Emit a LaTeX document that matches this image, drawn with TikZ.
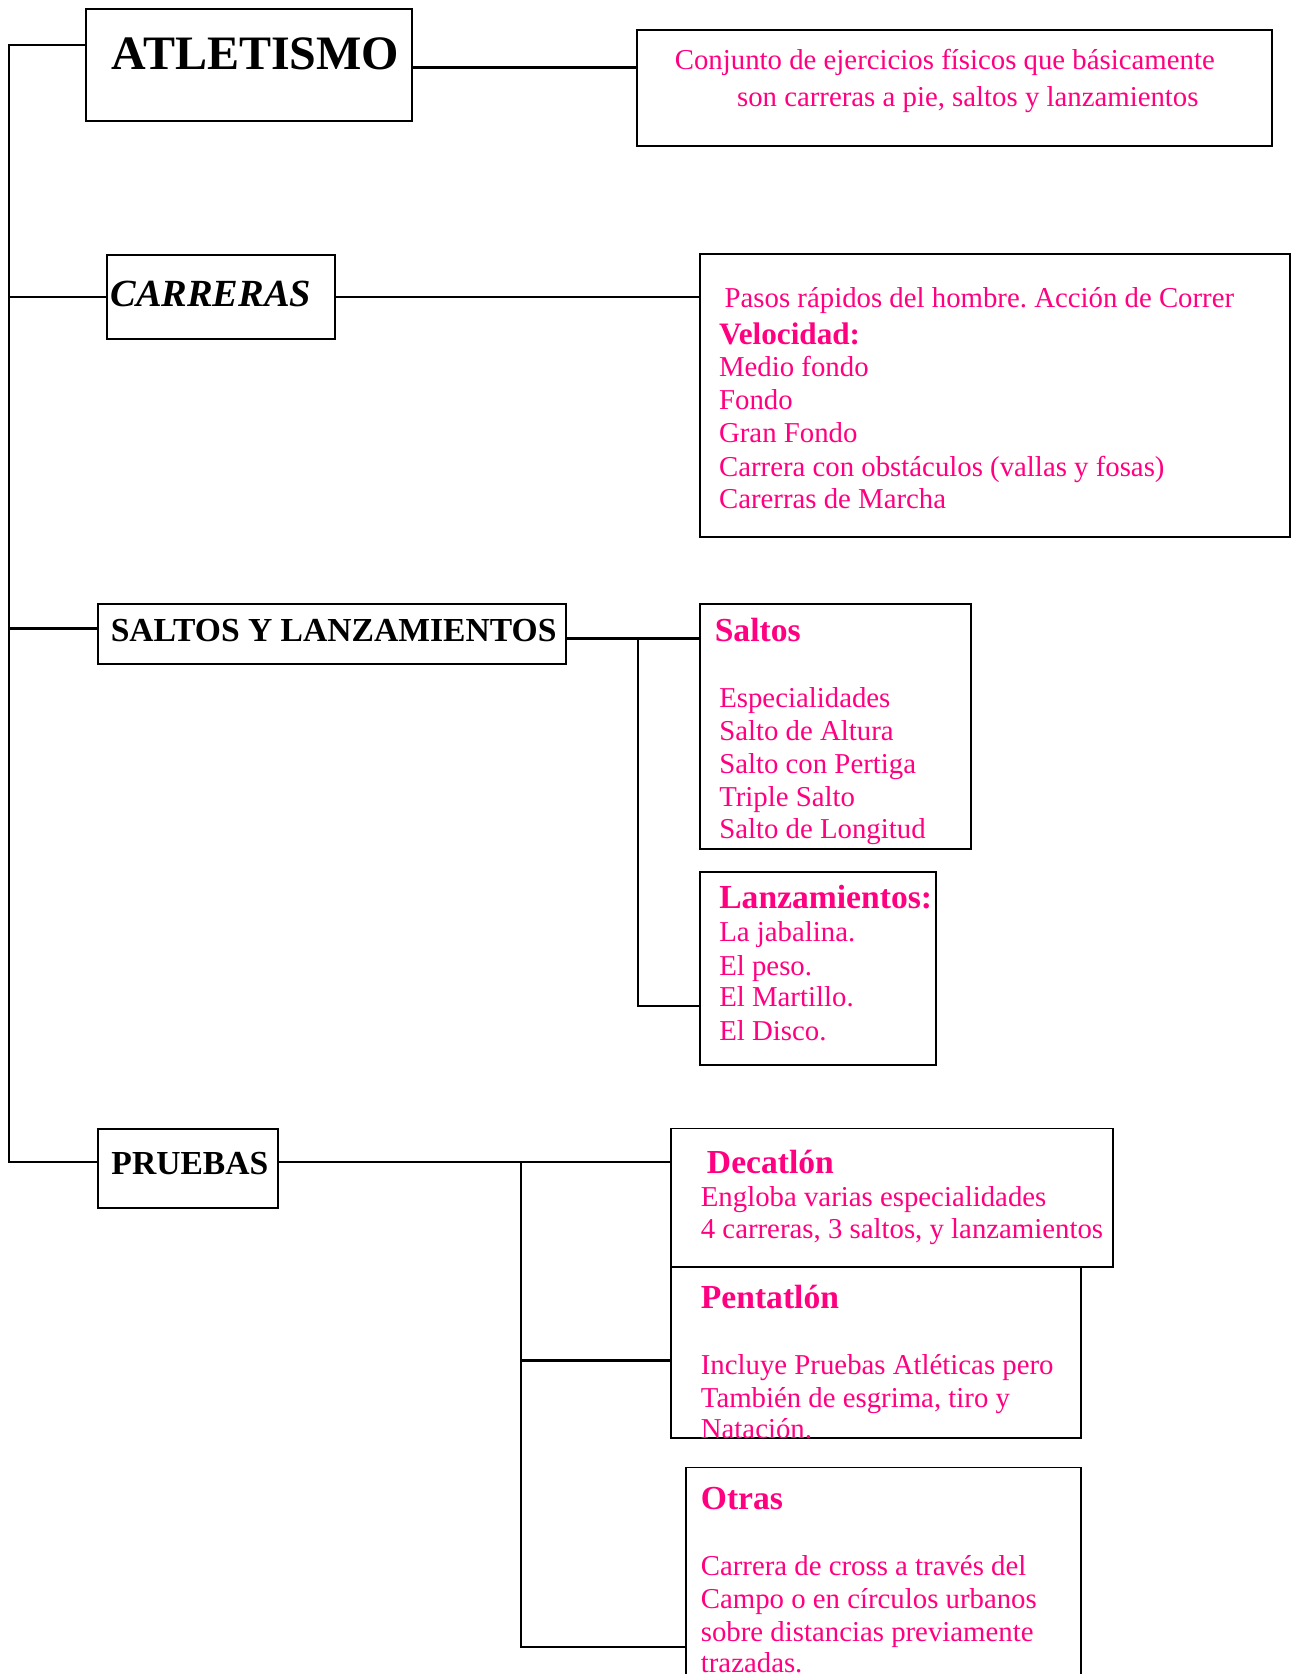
\documentclass[tikz,border=0pt]{standalone}
\usepackage{fontspec}
\setmainfont{Liberation Serif}
\usetikzlibrary{fit}
\definecolor{pinkc}{RGB}{255,0,128}
\frenchspacing
\tikzset{
  box/.style={draw=black, line width=0.8pt, inner sep=0pt, rectangle},
  conn/.style={draw=black, line width=1pt},
  txt/.style={anchor=base west, inner sep=0pt, text=pinkc, font=\fontsize{12}{13.8}\selectfont},
  hdr/.style={anchor=base west, inner sep=0pt, text=pinkc, font=\fontsize{14}{16}\selectfont\bfseries},
  ttl/.style={anchor=base west, inner sep=0pt, text=black, font=\fontsize{14}{16}\selectfont\bfseries}
}
\begin{document}
\begin{tikzpicture}[x=0.41667pt, y=-0.41667pt]
\useasboundingbox (0,0) rectangle (1292,1674);
\clip (0,0) rectangle (1292,1674);

% boxes
\node[box, fit={(86,9)(412,121)}] (atl) {};
\node[box, fit={(637,30)(1272,146)}] (def) {};
\node[box, fit={(107,255)(335,339)}] (car) {};
\node[box, fit={(700,254)(1290,537)}] (card) {};
\node[box, fit={(98,604)(566,664)}] (sal) {};
\node[box, fit={(700,604)(971,849)}] (salt) {};
\node[box, fit={(700,872)(936,1065)}] (lanz) {};
\node[box, fit={(98,1129)(278,1208)}] (pru) {};
\node[box, fit={(671,1128.5)(1113,1267)}] (dec) {};
\node[box, fit={(671,1267)(1081,1438)}] (pen) {};
\node[box, fit={(686,1467.5)(1081,1720)}] (ot) {};

% junction coordinates
\coordinate (b1) at (9,45);
\coordinate (b4) at (9,1162);
\coordinate (a1) at (500,67.5);
\coordinate (j1) at (638,638.3);
\coordinate (j2) at (638,1006);
\coordinate (k1) at (521,1162);
\coordinate (k2) at (521,1360.6);
\coordinate (k3) at (521,1647);

% connectors
\draw[conn] (atl.west|-b1) -| (b4) -- (pru.west|-b4);
\draw[conn] (b1|-car.west) -- (car.west);
\draw[conn] (b1|-0,628.3) -- (sal.west|-0,628.3);
\draw[conn] (atl.east|-a1) -- (def.west|-a1);
\draw[conn] (car.east) -- (card.west|-car.east);
\draw[conn] (sal.east|-j1) -- (j1) -- (salt.west|-j1);
\draw[conn] (j1) |- (lanz.west|-j2);
\draw[conn] (pru.east|-b4) -- (dec.west|-b4);
\draw[conn] (k1) -- (k3) -- (ot.west|-k3);
\draw[conn] (k2) -- (pen.west|-k2);

% titles
\node[ttl, font=\fontsize{20}{24}\selectfont\bfseries] (tatl) at (111.5,70) {ATLETISMO};
\node[ttl, font=\fontsize{16}{19}\selectfont\bfseries\itshape] (tcar) at (110,306.7) {CARRERAS};
\node[ttl] (tsal) at (110.3,641.7) {SALTOS Y LANZAMIENTOS};
\node[ttl] (tpru) at (111,1174.3) {PRUEBAS};

% definition
\node[txt] (d1) at (674.4,69.6) {Conjunto de ejercicios físicos que básicamente};
\node[txt] (d2) at (736.6,106.4) {son carreras a pie, saltos y lanzamientos};

% carreras
\node[txt] (c1) at (724.2,307.1) {Pasos rápidos del hombre. Acción de Correr};
\node[hdr, font=\fontsize{13}{15}\selectfont\bfseries] (c2) at (718.6,344.6) {Velocidad:};
\node[txt] (c3) at (718.6,376.8) {Medio fondo};
\node[txt] (c4) at (718.6,409.6) {Fondo};
\node[txt] (c5) at (718.6,442.9) {Gran Fondo};
\node[txt] (c6) at (718.6,476.1) {Carrera con obstáculos (vallas y fosas)};
\node[txt] (c7) at (718.6,508.9) {Carerras de Marcha};

% saltos
\node[hdr] (s1) at (714.3,641.7) {Saltos};
\node[txt] (s2) at (718.8,707.3) {Especialidades};
\node[txt] (s3) at (718.8,740.7) {Salto de Altura};
\node[txt] (s4) at (718.8,773.3) {Salto con Pertiga};
\node[txt] (s5) at (718.8,806.7) {Triple Salto};
\node[txt] (s6) at (718.8,838.3) {Salto de Longitud};

% lanzamientos
\node[hdr] (l1) at (718.8,908.3) {Lanzamientos:};
\node[txt] (l2) at (718.8,941.7) {La jabalina.};
\node[txt] (l3) at (718.8,975) {El peso.};
\node[txt] (l4) at (718.8,1006.7) {El Martillo.};
\node[txt] (l5) at (718.8,1040) {El Disco.};

% decatlon
\node[hdr] (e1) at (706.5,1173.2) {Decatlón};
\node[txt] (e2) at (700.4,1206.9) {Engloba varias especialidades};
\node[txt] (e3) at (700.4,1238.4) {4 carreras, 3 saltos, y lanzamientos};

% pentatlon
\node[hdr] (p1) at (700.4,1308.6) {Pentatlón};
\node[txt] (p2) at (700.4,1374.5) {Incluye Pruebas Atléticas pero};
\node[txt] (p3) at (700.4,1407.5) {También de esgrima, tiro y};
\node[txt] (p4) at (700.4,1438.6) {Natación.};

% otras
\node[hdr] (o1) at (700.4,1509.2) {Otras};
\node[txt] (o2) at (700.4,1575.8) {Carrera de cross a través del};
\node[txt] (o3) at (700.4,1608.8) {Campo o en círculos urbanos};
\node[txt] (o4) at (700.4,1641) {sobre distancias previamente};
\node[txt] (o5) at (700.4,1672.8) {trazadas.};
\end{tikzpicture}
\end{document}
